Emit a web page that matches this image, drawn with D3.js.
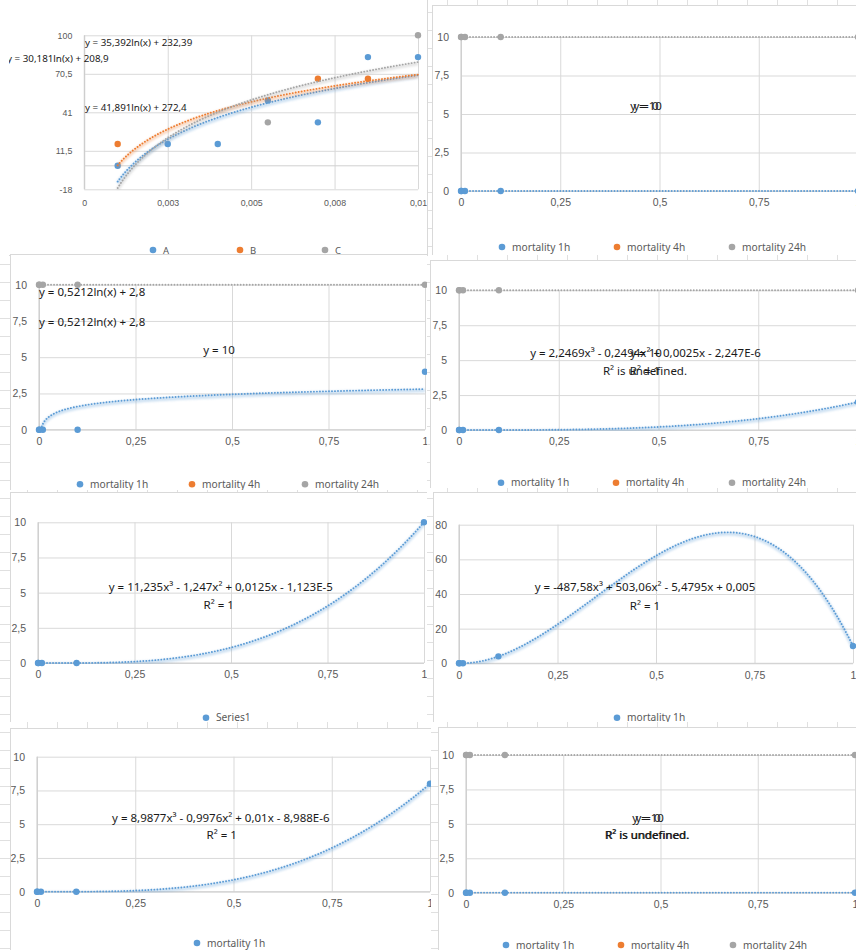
<!DOCTYPE html>
<html>
<head>
<meta charset="utf-8">
<script src="https://cdn.jsdelivr.net/npm/d3@7"></script>
<style>
  body { margin: 0; background: #fff; }
  svg { display: block; font-family: "Noto Sans", sans-serif; }
</style>
</head>
<body>
<svg id="sheet" width="856" height="950"></svg>
<script>
// ---- data ----
// chart 1 (A / B / C)
const concA = [0.001, 0.0025, 0.004, 0.0055, 0.007, 0.0085, 0.01];
const valuesA = [0, 16.7, 16.7, 50, 33.3, 83.3, 83.3];
const concB = [0.001, 0.007, 0.0085];
const valuesB = [16.7, 66.7, 66.7];
const concC = [0.0055, 0.01];
const valuesC = [33.3, 100];
const p1XTicks = [0, 0.0025, 0.005, 0.0075, 0.01];
const p1XLabels = ["0", "0,003", "0,005", "0,008", "0,01"];
const p1YTicks = [-18, 11.5, 41, 70.5, 100];
const p1YLabels = ["-18", "11,5", "41", "70,5", "100"];
// log trends: a*ln(x) + b
const logA = [35.392, 232.39];
const logB = [30.181, 208.9];
const logC = [41.891, 272.4];

// mortality charts
const doses = [0, 0.001, 0.01, 0.1, 1];
const p2Mort1h = [0, 0, 0, 0, 0];
const p2Mort24h = [10, 10, 10, 10, 10];
const p3Mort1h = [0, 0, 0, 0, 4];
const p3Mort24h = [10, 10, 10, 10, 10];
const p4Mort1h = [0, 0, 0, 0, 2];
const p4Mort24h = [10, 10, 10, 10, 10];
const p5Series1 = [0, 0, 0, 0, 10];
const p6Mort1h = [0, 0, 0, 4, 10];
const p7Mort1h = [0, 0, 0, 0, 8];
const p8Mort1h = [0, 0, 0, 0, 0];
const p8Mort24h = [10, 10, 10, 10, 10];

const doseTicks = [0, 0.25, 0.5, 0.75, 1];
const doseLabels = ["0", "0,25", "0,5", "0,75", "1"];
const mortTicks = [0, 2.5, 5, 7.5, 10];
const mortLabels = ["0", "2,5", "5", "7,5", "10"];
const p6YTicks = [0, 20, 40, 60, 80];
const p6YLabels = ["0", "20", "40", "60", "80"];

// trend coefficients
const log3 = [0.5212, 2.8];
const cubic4 = [2.2469, -0.2494, 0.0025, -2.247e-6];
const cubic5 = [11.235, -1.247, 0.0125, -1.123e-5];
const cubic6 = [-487.58, 503.06, -5.4795, 0.005];
const cubic7 = [8.9877, -0.9976, 0.01, -8.988e-6];

const mortNames = ["mortality 1h", "mortality 4h", "mortality 24h"];

const BLUE = '#5B9BD5', ORANGE = '#ED7D31', GRAY = '#A5A5A5';

const logFn = c => x => c[0] * Math.log(x) + c[1];
const cubicFn = c => x => c[0] * x * x * x + c[1] * x * x + c[2] * x + c[3];
const constFn = v => () => v;

const svg = d3.select('#sheet');
const defs = svg.append('defs');
defs.append('filter').attr('id', 'glow').attr('x', '-5%').attr('y', '-50%').attr('width', '110%').attr('height', '200%')
  .append('feGaussianBlur').attr('stdDeviation', 1.2);

// spreadsheet grid peeking through the gaps
const bg = svg.append('g').attr('stroke', '#e0e0e0').attr('stroke-width', 1);
d3.range(12, 950, 18).forEach(y => {
  bg.append('line').attr('x1', 0).attr('x2', 856).attr('y1', y + 0.5).attr('y2', y + 0.5);
});
d3.range(27, 856, 30).forEach(x => {
  bg.append('line').attr('x1', x + 0.5).attr('x2', x + 0.5).attr('y1', 0).attr('y2', 950);
});

function drawPanel(cfg, idx) {
  const [fx0, fy0, fx1, fy1] = cfg.frame;
  const clip = cfg.clip || cfg.frame;
  defs.append('clipPath').attr('id', 'pc' + idx)
    .append('rect').attr('x', clip[0]).attr('y', clip[1]).attr('width', clip[2] - clip[0]).attr('height', clip[3] - clip[1]);
  const g = svg.append('g').attr('clip-path', `url(#pc${idx})`);

  g.append('rect')
    .attr('x', fx0 + 0.5).attr('y', fy0 + 0.5)
    .attr('width', fx1 - fx0).attr('height', fy1 - fy0)
    .attr('fill', '#fff').attr('stroke', '#d9d9d9');

  const [pl, pt, pr, pb] = cfg.plot;
  const x = d3.scaleLinear().domain(cfg.xDomain).range([pl, pr]);
  const y = d3.scaleLinear().domain(cfg.yDomain).range([pb, pt]);
  const fs = cfg.tickSize || 10.5;

  // gridlines
  g.append('g')
    .attr('transform', `translate(0,${pb})`)
    .call(d3.axisBottom(x).tickValues(cfg.xTicks).tickSize(-(pb - pt)).tickFormat(''))
    .call(a => a.select('.domain').remove())
    .call(a => a.selectAll('line').attr('stroke', '#d9d9d9'));
  g.append('g')
    .attr('transform', `translate(${pl},0)`)
    .call(d3.axisLeft(y).tickValues(cfg.yTicks).tickSize(-(pr - pl)).tickFormat(''))
    .call(a => a.select('.domain').remove())
    .call(a => a.selectAll('line').attr('stroke', '#d9d9d9'));

  // axis lines at zero
  g.append('line').attr('x1', x(0)).attr('x2', x(0)).attr('y1', pt).attr('y2', pb).attr('stroke', '#c8c8c8');
  g.append('line').attr('x1', pl).attr('x2', pr).attr('y1', y(0)).attr('y2', y(0)).attr('stroke', '#d0d0d0');

  // tick labels
  g.append('g')
    .attr('transform', `translate(0,${pb})`)
    .call(d3.axisBottom(x).tickValues(cfg.xTicks).tickSize(0).tickPadding(cfg.xPad || 8)
      .tickFormat((d, i) => cfg.xLabels[i]))
    .call(a => a.select('.domain').remove())
    .call(a => a.selectAll('text').attr('fill', '#595959').attr('font-size', fs).attr('font-family', null));
  g.append('g')
    .attr('transform', `translate(${pl},0)`)
    .call(d3.axisLeft(y).tickValues(cfg.yTicks).tickSize(0).tickPadding(12)
      .tickFormat((d, i) => cfg.yLabels[i]))
    .call(a => a.select('.domain').remove())
    .call(a => a.selectAll('text').attr('fill', '#595959').attr('font-size', fs).attr('font-family', null));

  // points
  cfg.series.forEach(s => {
    g.append('g').selectAll('circle')
      .data(s.x.map((v, i) => [v, s.y[i]]))
      .join('circle')
      .attr('cx', d => x(d[0])).attr('cy', d => y(d[1]))
      .attr('r', 3.2).attr('fill', s.color);
  });

  // trend lines, clipped to the plot area
  defs.append('clipPath').attr('id', 'pa' + idx)
    .append('rect').attr('x', pl - 1).attr('y', pt - 3).attr('width', pr - pl + 2).attr('height', pb - pt + 4);
  const tg = g.append('g').attr('clip-path', `url(#pa${idx})`);
  cfg.trends.forEach(t => {
    const n = 300;
    const xs = t.log
      ? d3.range(n).map(i => t.from * Math.pow(t.to / t.from, i / (n - 1)))
      : d3.range(n).map(i => t.from + (t.to - t.from) * i / (n - 1));
    const line = d3.line().x(d => x(d)).y(d => y(t.fn(d)));
    tg.append('path').attr('d', line(xs))
      .attr('fill', 'none').attr('stroke', t.color).attr('stroke-width', 3.5)
      .attr('opacity', 0.3).attr('transform', 'translate(0,1.5)').attr('filter', 'url(#glow)');
    tg.append('path').attr('d', line(xs))
      .attr('fill', 'none').attr('stroke', t.color).attr('stroke-width', 1.9)
      .attr('stroke-linecap', 'round').attr('stroke-dasharray', '0.01 3');
  });

  // trend labels
  cfg.labels.forEach(l => {
    g.append('text').attr('x', l.x).attr('y', l.y)
      .attr('text-anchor', l.anchor || 'middle')
      .attr('font-size', cfg.labelSize || 11.5)
      .attr('fill', '#1a1a1a')
      .text(l.t);
  });

  // legend
  cfg.legend.items.forEach(it => {
    g.append('circle').attr('cx', it.x).attr('cy', cfg.legend.y).attr('r', 3.3).attr('fill', it.color);
    g.append('text').attr('x', it.x + 10).attr('y', cfg.legend.y + 3.6)
      .attr('font-size', cfg.legendSize || 10.2).attr('fill', '#595959').text(it.name);
  });
}

const mortLegend = xs => xs.map((x, i) => ({ x, name: mortNames[i], color: [BLUE, ORANGE, GRAY][i] }));

const panels = [
  {
    frame: [-2, -2, 427, 255], clip: [9, -2, 430, 257],
    plot: [84.3, 35.3, 418, 189.3],
    xDomain: [0, 0.01], yDomain: [-18, 100],
    xTicks: p1XTicks, xLabels: p1XLabels, yTicks: p1YTicks, yLabels: p1YLabels,
    tickSize: 8.8, xPad: 10, labelSize: 9.8, legendSize: 9.5,
    series: [
      { x: concA, y: valuesA, color: BLUE },
      { x: concB, y: valuesB, color: ORANGE },
      { x: concC, y: valuesC, color: GRAY }
    ],
    trends: [
      { fn: logFn(logA), from: 0.001, to: 0.01, log: true, color: BLUE },
      { fn: logFn(logB), from: 0.001, to: 0.01, log: true, color: ORANGE },
      { fn: logFn(logC), from: 0.001, to: 0.01, log: true, color: GRAY }
    ],
    labels: [
      { t: "y = 35,392ln(x) + 232,39", x: 85, y: 46, anchor: 'start' },
      { t: "y = 30,181ln(x) + 208,9", x: 7, y: 62, anchor: 'start' },
      { t: "y = 41,891ln(x) + 272,4", x: 85, y: 111, anchor: 'start' }
    ],
    legend: { y: 250, items: [
      { x: 153, name: "A", color: BLUE }, { x: 240, name: "B", color: ORANGE }, { x: 325, name: "C", color: GRAY }
    ] }
  },
  {
    frame: [432, 5, 858, 255], plot: [461, 37, 858, 191],
    xDomain: [0, 1], yDomain: [0, 10],
    xTicks: doseTicks, xLabels: doseLabels, yTicks: mortTicks, yLabels: mortLabels,
    series: [{ x: doses, y: p2Mort1h, color: BLUE }, { x: doses, y: p2Mort24h, color: GRAY }],
    trends: [
      { fn: constFn(10), from: 0, to: 1, color: GRAY },
      { fn: constFn(0), from: 0, to: 1, color: BLUE }
    ],
    labels: [{ t: "y = 10", x: 646, y: 110 }, { t: "y = 0", x: 646, y: 110 }],
    legend: { y: 247, items: mortLegend([502, 617, 732]) }
  },
  {
    frame: [10, 254, 427, 490], plot: [39, 284.7, 425, 429.7],
    xDomain: [0, 1], yDomain: [0, 10],
    xTicks: doseTicks, xLabels: doseLabels, yTicks: mortTicks, yLabels: mortLabels,
    series: [{ x: doses, y: p3Mort1h, color: BLUE }, { x: doses, y: p3Mort24h, color: GRAY }],
    trends: [
      { fn: constFn(10), from: 0, to: 1, color: GRAY },
      { fn: logFn(log3), from: 0.001, to: 1, log: true, color: BLUE }
    ],
    labels: [
      { t: "y = 0,5212ln(x) + 2,8", x: 39, y: 296, anchor: 'start' },
      { t: "y = 0,5212ln(x) + 2,8", x: 39, y: 325.5, anchor: 'start' },
      { t: "y = 10", x: 219, y: 354 }
    ],
    legend: { y: 484.3, items: mortLegend([80, 192, 305]) }
  },
  {
    frame: [430, 260, 858, 488], plot: [459, 290.3, 858, 430],
    xDomain: [0, 1], yDomain: [0, 10],
    xTicks: doseTicks, xLabels: doseLabels, yTicks: mortTicks, yLabels: mortLabels,
    series: [{ x: doses, y: p4Mort1h, color: BLUE }, { x: doses, y: p4Mort24h, color: GRAY }],
    trends: [
      { fn: constFn(10), from: 0, to: 1, color: GRAY },
      { fn: cubicFn(cubic4), from: 0, to: 1, color: BLUE }
    ],
    labels: [
      { t: "y = 2,2469x³ - 0,2494x² + 0,0025x - 2,247E-6", x: 645.5, y: 357 },
      { t: "y = 10", x: 646, y: 357 },
      { t: "R² = 1", x: 645, y: 375 },
      { t: "R² is undefined.", x: 645, y: 375 }
    ],
    legend: { y: 482.7, items: mortLegend([501, 616, 732]) }
  },
  {
    frame: [10, 492, 427, 722], plot: [38, 522.3, 424, 663],
    xDomain: [0, 1], yDomain: [0, 10],
    xTicks: doseTicks, xLabels: doseLabels, yTicks: mortTicks, yLabels: mortLabels,
    series: [{ x: doses, y: p5Series1, color: BLUE }],
    trends: [{ fn: cubicFn(cubic5), from: 0, to: 1, color: BLUE }],
    labels: [
      { t: "y = 11,235x³ - 1,247x² + 0,0125x - 1,123E-5", x: 220.8, y: 590.5 },
      { t: "R² = 1", x: 218.7, y: 609 }
    ],
    legend: { y: 717.7, items: [{ x: 206, name: "Series1", color: BLUE }] }
  },
  {
    frame: [433, 492, 858, 722], plot: [459, 524.7, 853, 663.3],
    xDomain: [0, 1], yDomain: [0, 80],
    xTicks: doseTicks, xLabels: doseLabels, yTicks: p6YTicks, yLabels: p6YLabels,
    series: [{ x: doses, y: p6Mort1h, color: BLUE }],
    trends: [{ fn: cubicFn(cubic6), from: 0, to: 1, color: BLUE }],
    labels: [
      { t: "y = -487,58x³ + 503,06x² - 5,4795x + 0,005", x: 645, y: 591 },
      { t: "R² = 1", x: 645, y: 609.5 }
    ],
    legend: { y: 717.7, items: [{ x: 617, name: "mortality 1h", color: BLUE }] }
  },
  {
    frame: [10, 728, 431, 952], plot: [37, 756.7, 430, 891.7],
    xDomain: [0, 1], yDomain: [0, 10],
    xTicks: doseTicks, xLabels: doseLabels, yTicks: mortTicks, yLabels: mortLabels,
    series: [{ x: doses, y: p7Mort1h, color: BLUE }],
    trends: [{ fn: cubicFn(cubic7), from: 0, to: 1, color: BLUE }],
    labels: [
      { t: "y = 8,9877x³ - 0,9976x² + 0,01x - 8,988E-6", x: 220.8, y: 821.5 },
      { t: "R² = 1", x: 221.7, y: 839 }
    ],
    legend: { y: 943, items: [{ x: 197, name: "mortality 1h", color: BLUE }] }
  },
  {
    frame: [438, 727, 858, 952], plot: [466, 755, 855, 892.7],
    xDomain: [0, 1], yDomain: [0, 10],
    xTicks: doseTicks, xLabels: doseLabels, yTicks: mortTicks, yLabels: mortLabels,
    series: [{ x: doses, y: p8Mort1h, color: BLUE }, { x: doses, y: p8Mort24h, color: GRAY }],
    trends: [
      { fn: constFn(10), from: 0, to: 1, color: GRAY },
      { fn: constFn(0), from: 0, to: 1, color: BLUE }
    ],
    labels: [
      { t: "y = 10", x: 648, y: 821.5 }, { t: "y = 0", x: 648, y: 821.5 },
      { t: "R² is undefined.", x: 646.8, y: 839 }, { t: "R² is undefined.", x: 647.5, y: 839 }
    ],
    legend: { y: 945, items: mortLegend([506, 621, 733]) }
  }
];

// white cover for the area behind chart 1
svg.append('rect').attr('x', 0).attr('y', 0).attr('width', 428).attr('height', 254).attr('fill', '#fff');
panels.forEach(drawPanel);
</script>
</body>
</html>
